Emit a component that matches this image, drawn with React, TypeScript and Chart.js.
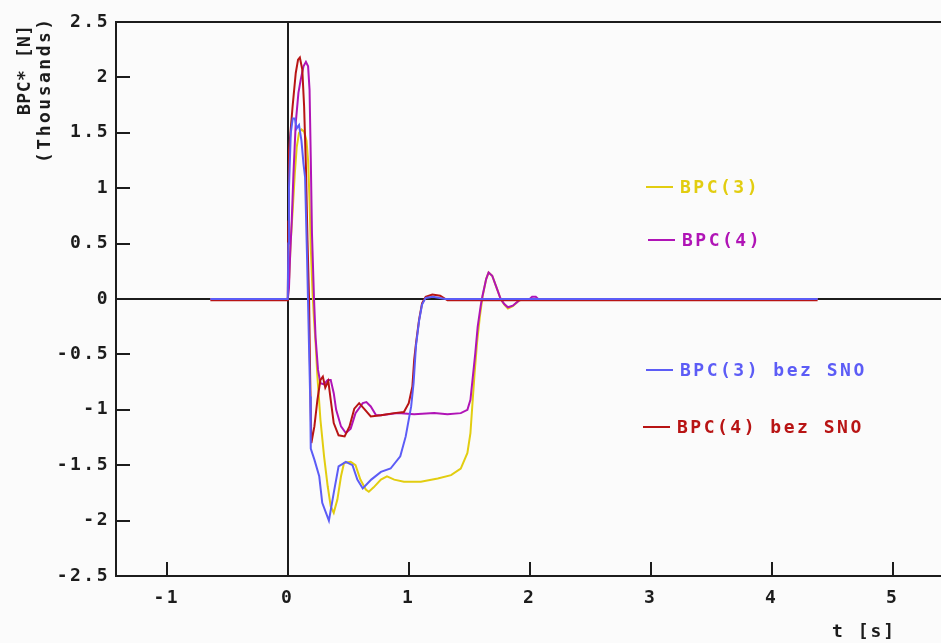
import React, { useEffect, useRef } from 'react';
import { Chart, registerables } from 'chart.js';

Chart.register(...registerables);

// Axis ranges and ticks (force in thousands of N, time in s)
const X_MIN = -1.42;
const X_MAX = 5.4;
const Y_MIN = -2.5;
const Y_MAX = 2.5;
const xTicks = [-1, 0, 1, 2, 3, 4, 5];
const yTicks = [-2.5, -2, -1.5, -1, -0.5, 0, 0.5, 1, 1.5, 2, 2.5];

// BPC(3)
const bpc3Time = [-0.64, 0.0, 0.012, 0.025, 0.039, 0.058, 0.074, 0.093, 0.113, 0.135, 0.155, 0.168, 0.18, 0.19, 0.205, 0.215, 0.23, 0.245, 0.27, 0.3, 0.33, 0.355, 0.38, 0.41, 0.44, 0.465, 0.52, 0.56, 0.6, 0.645, 0.67, 0.71, 0.77, 0.82, 0.88, 0.96, 1.1, 1.24, 1.35, 1.43, 1.485, 1.51, 1.525, 1.545, 1.565, 1.59, 1.61, 1.64, 1.66, 1.69, 1.72, 1.76, 1.79, 1.82, 1.86, 1.91, 1.95, 4.38];
const bpc3Force = [0, 0, 0.2, 0.53, 0.77, 1.13, 1.37, 1.5, 1.53, 1.51, 1.43, 1.25, 0.89, 0.47, 0.05, -0.15, -0.4, -0.7, -1.09, -1.42, -1.69, -1.87, -1.93, -1.81, -1.6, -1.48, -1.47, -1.5, -1.63, -1.72, -1.74, -1.7, -1.63, -1.6, -1.63, -1.65, -1.65, -1.62, -1.59, -1.53, -1.39, -1.21, -0.97, -0.66, -0.39, -0.14, 0.02, 0.18, 0.24, 0.21, 0.12, 0.0, -0.05, -0.085, -0.065, -0.015, 0, 0];

// BPC(4)
const bpc4Time = [-0.64, 0.0, 0.01, 0.02, 0.033, 0.047, 0.066, 0.088, 0.107, 0.13, 0.15, 0.168, 0.18, 0.19, 0.2, 0.217, 0.23, 0.25, 0.27, 0.3, 0.33, 0.355, 0.38, 0.4, 0.44, 0.48, 0.52, 0.56, 0.62, 0.65, 0.686, 0.73, 0.77, 0.91, 1.045, 1.21, 1.32, 1.43, 1.485, 1.51, 1.53, 1.55, 1.57, 1.595, 1.61, 1.64, 1.66, 1.69, 1.72, 1.76, 1.79, 1.82, 1.86, 1.91, 1.95, 2.0, 2.02, 2.05, 2.07, 4.38];
const bpc4Force = [0, 0, 0.1, 0.41, 0.71, 1.13, 1.59, 1.86, 1.98, 2.1, 2.14, 2.1, 1.89, 1.28, 0.59, 0, -0.35, -0.64, -0.76, -0.77, -0.73, -0.73, -0.85, -1.0, -1.15, -1.21, -1.17, -1.03, -0.94, -0.93, -0.97, -1.05, -1.05, -1.03, -1.04, -1.03, -1.04, -1.03, -1.0, -0.91, -0.7, -0.49, -0.25, -0.06, 0.03, 0.18, 0.24, 0.21, 0.12, 0, -0.045, -0.075, -0.06, -0.015, 0, 0, 0.02, 0.02, 0, 0];

// BPC(3) bez SNO
const bpc3NoSnoTime = [-0.64, 0.0, 0.005, 0.01, 0.025, 0.041, 0.058, 0.074, 0.093, 0.113, 0.13, 0.143, 0.16, 0.175, 0.185, 0.19, 0.22, 0.26, 0.285, 0.34, 0.38, 0.42, 0.48, 0.535, 0.575, 0.62, 0.69, 0.77, 0.85, 0.93, 0.975, 1.02, 1.04, 1.06, 1.085, 1.11, 1.14, 1.2, 1.3, 4.38];
const bpc3NoSnoForce = [0, 0, 0.5, 1.0, 1.5, 1.63, 1.63, 1.54, 1.57, 1.43, 1.22, 1.1, 0.35, -0.4, -0.88, -1.35, -1.45, -1.6, -1.84, -2.0, -1.75, -1.51, -1.47, -1.5, -1.63, -1.71, -1.63, -1.56, -1.53, -1.42, -1.24, -0.97, -0.76, -0.42, -0.2, -0.05, 0.01, 0.02, 0, 0];

// BPC(4) bez SNO
const bpc4NoSnoTime = [-0.64, 0.0, 0.005, 0.01, 0.04, 0.066, 0.085, 0.1, 0.12, 0.135, 0.15, 0.163, 0.176, 0.185, 0.195, 0.22, 0.245, 0.27, 0.29, 0.31, 0.335, 0.355, 0.38, 0.42, 0.47, 0.51, 0.55, 0.59, 0.63, 0.686, 0.77, 0.88, 0.96, 1.0, 1.03, 1.045, 1.06, 1.085, 1.11, 1.14, 1.195, 1.26, 1.32, 4.38];
const bpc4NoSnoForce = [-0.012, -0.012, 0.7, 1.34, 1.74, 2.04, 2.16, 2.18, 2.07, 1.74, 1.19, 0.53, 0, -0.7, -1.3, -1.15, -0.91, -0.73, -0.7, -0.8, -0.74, -0.91, -1.12, -1.23, -1.24, -1.15, -0.99, -0.94, -0.99, -1.06, -1.05, -1.03, -1.02, -0.94, -0.79, -0.55, -0.4, -0.19, -0.04, 0.02, 0.04, 0.03, -0.012, -0.012];

const seriesLabels = ['BPC(3)', 'BPC(4)', 'BPC(3) bez SNO', 'BPC(4) bez SNO'];
const seriesColors = ['#e2cd10', '#b014b6', '#5c5cf6', '#b81414'];

const FONT_FAMILY = "'DejaVu Sans Mono', 'Liberation Mono', monospace";
const FONT = `bold 18px ${FONT_FAMILY}`;
const INK = '#1c1c1c';
const BG = '#fbfbfb';

const toPoints = (t: number[], v: number[]) => t.map((x, i) => ({ x, y: v[i] }));

// Legend rows placed inside the plot, at the right
const legendRows = [
  { x: 646, y: 187 },
  { x: 648, y: 240 },
  { x: 646, y: 370 },
  { x: 643, y: 427 },
];

const framePlugin = {
  id: 'frame',
  beforeDraw(chart: any) {
    const { ctx, width, height } = chart;
    ctx.save();
    ctx.fillStyle = BG;
    ctx.fillRect(0, 0, width, height);
    ctx.restore();
    ctx.letterSpacing = '2.5px';
  },
  beforeDatasetsDraw(chart: any) {
    const { ctx, chartArea, scales } = chart;
    const { left, top, right, bottom } = chartArea;
    ctx.save();
    ctx.strokeStyle = INK;
    ctx.lineWidth = 2;
    ctx.beginPath();
    // top frame line
    ctx.moveTo(left, top);
    ctx.lineTo(right, top);
    // tick marks pointing into the plot
    scales.x.ticks.forEach((t: any) => {
      const px = Math.round(scales.x.getPixelForValue(t.value));
      ctx.moveTo(px, bottom);
      ctx.lineTo(px, bottom - 14);
    });
    scales.y.ticks.forEach((t: any) => {
      const py = Math.round(scales.y.getPixelForValue(t.value));
      ctx.moveTo(left, py);
      ctx.lineTo(left + 14, py);
    });
    ctx.stroke();
    ctx.restore();
  },
  afterDraw(chart: any) {
    const { ctx } = chart;
    ctx.save();
    ctx.font = FONT;
    ctx.textBaseline = 'middle';
    ctx.textAlign = 'left';

    // legend
    ctx.letterSpacing = '2.5px';
    chart.data.datasets.forEach((ds: any, i: number) => {
      const row = legendRows[i];
      ctx.strokeStyle = ds.borderColor;
      ctx.lineWidth = 2;
      ctx.beginPath();
      ctx.moveTo(row.x, row.y);
      ctx.lineTo(row.x + 27, row.y);
      ctx.stroke();
      ctx.fillStyle = ds.borderColor;
      ctx.fillText(ds.label, row.x + 34, row.y + 1);
    });

    // axis titles
    ctx.fillStyle = INK;
    ctx.letterSpacing = '2px';
    ctx.fillText('t [s]', 832, 632);

    ctx.save();
    ctx.translate(25, 115);
    ctx.rotate(-Math.PI / 2);
    ctx.letterSpacing = '0.5px';
    ctx.fillText('BPC* [N]', 0, 0);
    ctx.restore();

    ctx.save();
    ctx.translate(45, 163);
    ctx.rotate(-Math.PI / 2);
    ctx.letterSpacing = '2.5px';
    ctx.fillText('(Thousands)', 0, 0);
    ctx.restore();

    ctx.restore();
  },
};

export default function App() {
  const canvasRef = useRef<HTMLCanvasElement | null>(null);

  useEffect(() => {
    const canvas = canvasRef.current;
    if (!canvas) return;
    const series = [
      toPoints(bpc3Time, bpc3Force),
      toPoints(bpc4Time, bpc4Force),
      toPoints(bpc3NoSnoTime, bpc3NoSnoForce),
      toPoints(bpc4NoSnoTime, bpc4NoSnoForce),
    ];
    const drawOrder = [3, 2, 0, 1];
    const chart = new Chart(canvas, {
      type: 'line',
      data: {
        datasets: series.map((data, i) => ({
          label: seriesLabels[i],
          data,
          borderColor: seriesColors[i],
          backgroundColor: seriesColors[i],
          borderWidth: 2,
          pointRadius: 0,
          tension: 0,
          fill: false,
          order: drawOrder[i],
        })),
      },
      options: {
        animation: false,
        responsive: false,
        devicePixelRatio: 1,
        parsing: true,
        layout: { padding: { top: 22, right: 0, left: 0, bottom: 0 } },
        plugins: {
          legend: { display: false },
          tooltip: { enabled: false },
          title: { display: false },
        },
        scales: {
          x: {
            type: 'linear',
            min: X_MIN,
            max: X_MAX,
            afterBuildTicks: (s: any) => {
              s.ticks = xTicks.map((value) => ({ value }));
            },
            afterFit: (s: any) => {
              s.height = 67;
            },
            grid: {
              drawTicks: false,
              color: (c: any) => (c.tick && c.tick.value === 0 ? INK : 'rgba(0,0,0,0)'),
              lineWidth: 2,
            },
            border: { display: true, color: INK, width: 2 },
            ticks: {
              padding: 12,
              color: INK,
              font: { family: FONT_FAMILY, weight: 'bold', size: 18 },
              callback: (v: any) => String(v),
              maxRotation: 0,
              autoSkip: false,
            },
          },
          y: {
            type: 'linear',
            min: Y_MIN,
            max: Y_MAX,
            afterBuildTicks: (s: any) => {
              s.ticks = yTicks.map((value) => ({ value }));
            },
            afterFit: (s: any) => {
              s.width = 116;
            },
            grid: {
              drawTicks: false,
              color: (c: any) => (c.tick && c.tick.value === 0 ? INK : 'rgba(0,0,0,0)'),
              lineWidth: 2,
            },
            border: { display: true, color: INK, width: 2 },
            ticks: {
              padding: 6,
              color: INK,
              font: { family: FONT_FAMILY, weight: 'bold', size: 18 },
              callback: (v: any) => String(v),
              autoSkip: false,
            },
          },
        },
      },
      plugins: [framePlugin],
    } as any);
    return () => chart.destroy();
  }, []);

  return (
    <div style={{ position: 'fixed', left: 0, top: 0, width: 941, height: 643, background: BG }}>
      <canvas ref={canvasRef} width={941} height={643} style={{ width: 941, height: 643, display: 'block' }} />
    </div>
  );
}
